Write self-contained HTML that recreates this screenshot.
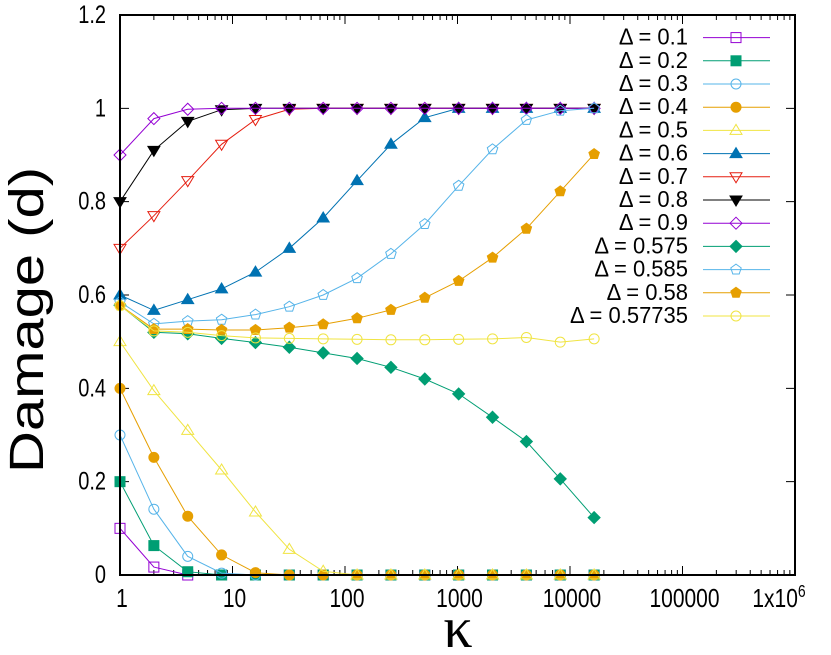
<!DOCTYPE html>
<html><head><meta charset="utf-8"><style>
body{margin:0;background:#fff;width:831px;height:655px;overflow:hidden}
svg{display:block;font-family:"Liberation Sans",sans-serif}
</style></head><body>
<svg id="chart" width="831" height="655" viewBox="0 0 831 655" xmlns="http://www.w3.org/2000/svg"></svg>
<script>
const kappas=[1,2,4,8,16,32,64,128,256,512,1024,2048,4096,8192,16384];
const seriesLabels=["Δ = 0.1","Δ = 0.2","Δ = 0.3","Δ = 0.4","Δ = 0.5","Δ = 0.6","Δ = 0.7","Δ = 0.8","Δ = 0.9","Δ = 0.575","Δ = 0.585","Δ = 0.58","Δ = 0.57735"];
const d01=[0.1,0.017,0,0,0,0,0,0,0,0,0,0,0,0,0];
const d02=[0.2,0.063,0.007,0,0,0,0,0,0,0,0,0,0,0,0];
const d03=[0.3,0.141,0.04,0.004,0,0,0,0,0,0,0,0,0,0,0];
const d04=[0.4,0.252,0.126,0.043,0.005,0,0,0,0,0,0,0,0,0,0];
const d05=[0.5,0.395,0.31,0.225,0.135,0.055,0.008,0,0,0,0,0,0,0,0];
const d06=[0.6,0.567,0.59,0.613,0.649,0.7,0.765,0.845,0.923,0.98,1,1,1,1,1];
const d07=[0.7,0.77,0.845,0.923,0.976,0.998,1,1,1,1,1,1,1,1,1];
const d08=[0.8,0.91,0.972,0.997,1,1,1,1,1,1,1,1,1,1,1];
const d09=[0.9,0.978,0.998,1,1,1,1,1,1,1,1,1,1,1,1];
const d0575=[0.578,0.52,0.517,0.507,0.498,0.488,0.476,0.464,0.445,0.42,0.388,0.338,0.286,0.206,0.123];
const d0585=[0.585,0.538,0.544,0.547,0.558,0.575,0.6,0.636,0.688,0.752,0.834,0.912,0.975,0.995,1.0];
const d058=[0.578,0.527,0.527,0.525,0.525,0.53,0.537,0.55,0.568,0.594,0.63,0.68,0.742,0.822,0.902];
const d057735=[0.577,0.523,0.52,0.513,0.508,0.507,0.506,0.505,0.504,0.504,0.505,0.506,0.509,0.499,0.506];
const yTicks=[0,0.2,0.4,0.6,0.8,1,1.2];
const yTickLabels=["0","0.2","0.4","0.6","0.8","1","1.2"];
const xTicks=[1,10,100,1000,10000,100000,1000000];
const xTickLabels=["1","10","100","1000","10000","100000","1x10"];

const allSeries=[d01,d02,d03,d04,d05,d06,d07,d08,d09,d0575,d0585,d058,d057735];
const colors=["#9400d3","#009e73","#56b4e9","#e69f00","#f0e442","#0072b2","#e51e10","#000000","#9400d3","#009e73","#56b4e9","#e69f00","#f0e442"];
const markers=["sqO","sqF","cirO","cirF","triO","triF","itriO","itriF","diaO","diaF","penO","penF","cirP"];
const L=120,R=795,T=15,B=575;
const dec=(R-L)/6;
const X=v=>L+Math.log10(v)*dec;
const Y=v=>B-(v/1.2)*(B-T);
const svg=document.getElementById('chart');
const NS="http://www.w3.org/2000/svg";
function mk(tag,attrs,parent){const e=document.createElementNS(NS,tag);for(const k in attrs)e.setAttribute(k,attrs[k]);(parent||svg).appendChild(e);return e;}

for(let i=0;i<yTicks.length;i++){
  const y=Y(yTicks[i]);
  const t=mk('path',{d:`M${L} ${y}h9M${R} ${y}h-9`,stroke:'#000','stroke-width':1});
  
  
  const lb=mk('text',{x:0,y:0,transform:`translate(106,${y+8}) scale(1,1.25)`,'text-anchor':'end','font-size':20});
  lb.textContent=yTickLabels[i];
  
  
}
for(let i=0;i<xTicks.length;i++){
  const x=X(xTicks[i]);
  const t=mk('path',{d:`M${x} ${B}v-9M${x} ${T}v9`,stroke:'#000','stroke-width':1});
  
  
  if(i<xTicks.length-1){for(let m=2;m<10;m++){const xm=X(xTicks[i]*m);const mt=mk('path',{d:`M${xm} ${B}v-5M${xm} ${T}v5`,stroke:'#000','stroke-width':1});}}
  const lb=mk('text',{x:0,y:0,transform:`translate(${i==6?x-16:x+2},${B+32}) scale(1,1.25)`,'text-anchor':'middle','font-size':21});
  lb.textContent=xTickLabels[i];
  if(i==6){const s=mk('tspan',{dy:-8,'font-size':14},lb);s.textContent='6';}
  
  
}
function marker(type,x,y,c,parent){
  const s=5,fill=type.endsWith('F')?c:'none';
  const base=type.slice(0,-1);let e;
  const a={stroke:c,'stroke-width':1,fill:fill};
  if(base==='sq')e=mk('rect',Object.assign({x:x-s,y:y-s,width:2*s,height:2*s},a),parent);
  else if(base==='cir')e=mk('circle',Object.assign({cx:x,cy:y,r:s},a),parent);
  else if(base==='tri')e=mk('polygon',Object.assign({points:`${x},${y-s-1} ${x-s-1},${y+s-1} ${x+s+1},${y+s-1}`},a),parent);
  else if(base==='itri')e=mk('polygon',Object.assign({points:`${x},${y+s+1} ${x-s-1},${y-s+1} ${x+s+1},${y-s+1}`},a),parent);
  else if(base==='dia')e=mk('polygon',Object.assign({points:`${x},${y-s-1} ${x+s+1},${y} ${x},${y+s+1} ${x-s-1},${y}`},a),parent);
  else if(base==='pen'){let p=[];for(let k=0;k<5;k++){const an=-Math.PI/2+k*2*Math.PI/5;p.push((x+s*1.1*Math.cos(an)).toFixed(1)+','+(y+s*1.1*Math.sin(an)).toFixed(1));}e=mk('polygon',Object.assign({points:p.join(' ')},a),parent);}
  else if(type==='cirP'){e=mk('circle',{cx:x,cy:y,r:s,stroke:c,'stroke-width':1,fill:'none'},parent);mk('path',{d:`M${x-s} ${y}h${2*s}M${x} ${y-s}v${2*s}`,stroke:c,'stroke-width':1},parent);}
  return e;
}
allSeries.forEach((vals,si)=>{
  const g=mk('g',{});
  
  
  const pts=kappas.map((k,i)=>X(k).toFixed(1)+','+Y(vals[i]).toFixed(1)).join(' ');
  mk('polyline',{points:pts,fill:'none',stroke:colors[si],'stroke-width':1},g);
  kappas.forEach((k,i)=>{marker(markers[si],X(k),Y(vals[i]),colors[si],g);});
});
seriesLabels.forEach((lbl,i)=>{
  const y=37.6+i*23.2;
  const g=mk('g',{});
  
  
  const t=mk('text',{x:0,y:0,transform:`translate(688,${y+7}) scale(1,1.05)`,'text-anchor':'end','font-size':22},g);t.textContent=lbl;
  mk('line',{x1:703,y1:y,x2:770,y2:y,stroke:colors[i],'stroke-width':1},g);
  marker(markers[i],736,y,colors[i],g);
});
const fr=mk('rect',{x:L,y:T,width:R-L,height:B-T,fill:'none',stroke:'#000','stroke-width':2});


const yt=mk('text',{x:0,y:0,transform:'translate(43,320) rotate(-90)','text-anchor':'middle','font-size':48,textLength:306,lengthAdjust:'spacingAndGlyphs'});
yt.textContent='Damage (d)';


const xt=mk('text',{x:458,y:647,'text-anchor':'middle','font-size':58,'font-family':'"Liberation Serif",serif'});
xt.textContent='κ';


</script>
</body></html>
